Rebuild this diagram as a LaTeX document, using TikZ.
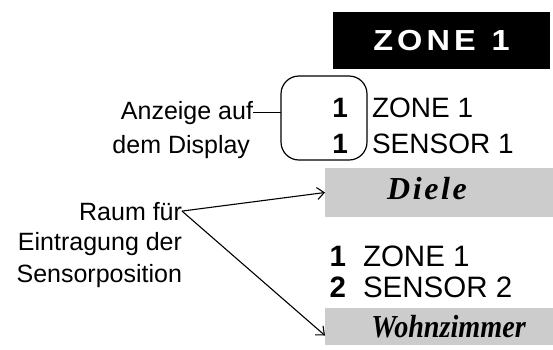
\documentclass[tikz,border=0pt]{standalone}
\usepackage{fontspec}
\setmainfont{Liberation Sans}
\newfontfamily\zonefont[LetterSpace=14,FakeStretch=1.12]{Liberation Sans}
\newfontfamily\wohnfont[FakeStretch=0.88]{Liberation Serif}
\newfontfamily\dielefont[LetterSpace=8]{Liberation Serif}
\usepackage{tikz}
\usetikzlibrary{arrows.meta}

\begin{document}
\begin{tikzpicture}[
    x=1pt, y=-1pt,
    every node/.style = {inner sep=0pt, outer sep=0pt},
    note/.style = {anchor=base east, font=\fontsize{25}{29}\selectfont},
    lcd/.style = {anchor=base west, font=\fontsize{28}{32}\selectfont},
    digit/.style = {anchor=base east, font=\fontsize{28}{32}\selectfont\bfseries},
    roombox/.style = {fill=black!20, minimum width=228pt},
    pointer/.style = {draw, line width=1.1pt, -{Straight Barb[length=7pt,width=12pt]}}
  ]

  \useasboundingbox (0,0) rectangle (553,349);

  \node[fill=black, text=white, minimum width=217pt, minimum height=57pt,
        font=\zonefont\bfseries\fontsize{29}{34}\selectfont] (zone) at (441.5,40.5)
        {ZONE\hspace{16pt}1\hspace{3pt}};

  \node[draw, line width=1.2pt, rounded corners=18pt,
        minimum width=86pt, minimum height=84pt] (disp) at (324,118) {};
  \node[digit] (d1) at (348,117) {1};
  \node[digit] (d2) at (348,153) {1};
  \node[lcd] (t1) at (372,117) {ZONE 1};
  \node[lcd] (t2) at (372,153) {SENSOR 1};

  \node[note] (anz) at (253,119) {Anzeige auf};
  \node[note] (dem) at (250,153) {dem Display};
  \draw[line width=1.1pt] (anz.east) -- (anz.east -| disp.west);

  \node[roombox, minimum height=49pt] (diele) at (439,192.5) {};
  \node[anchor=base, font=\dielefont\bfseries\itshape\fontsize{32}{36}\selectfont]
        (dieletxt) at (427,199) {Diele};

  \node[note] (raum) at (182,220) {Raum für};
  \node[note] (eintr) at (182,250) {Eintragung der};
  \node[note] (senspos) at (182,282) {Sensorposition};

  \node[digit, font=\fontsize{29.5}{34}\selectfont\bfseries] (d3) at (346,266) {1};
  \node[digit, font=\fontsize{29.5}{34}\selectfont\bfseries] (d4) at (346,297) {2};
  \node[lcd, font=\fontsize{29.5}{34}\selectfont] (t3) at (363,266) {ZONE 1};
  \node[lcd, font=\fontsize{29.5}{34}\selectfont] (t4) at (363,297) {SENSOR 2};

  \node[roombox, minimum height=37pt] (wohn) at (439,326.5) {};
  \node[anchor=base, font=\wohnfont\bfseries\itshape\fontsize{32}{36}\selectfont]
        (wohntxt) at (448.5,337) {Wohnzimmer};

  \draw[pointer] (raum.east) -- (diele.west);
  \draw[pointer] (raum.east) -- ([yshift=-9pt]wohn.west);
\end{tikzpicture}
\end{document}
